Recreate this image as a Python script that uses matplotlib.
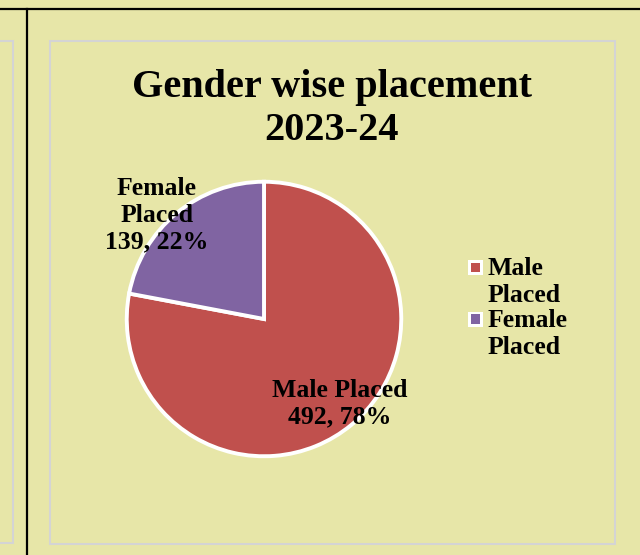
import matplotlib.pyplot as plt
from matplotlib.patches import Rectangle
from matplotlib.lines import Line2D

# data
categories = ['Male Placed', 'Female Placed']
counts = [492, 139]
percents = [78, 22]
colors = ['#C0504D', '#8064A2']
legend_labels = ['Male\nPlaced', 'Female\nPlaced']

bg = '#E7E6A8'
W, H = 640, 555

fig = plt.figure(figsize=(W / 100, H / 100), dpi=100, facecolor=bg)
plt.rcParams['font.family'] = ['Liberation Serif', 'DejaVu Serif']


def fx(x):
    return x / W


def fy(y):
    return 1 - y / H


# frame lines of the page / neighbouring chart
fig.add_artist(Line2D([0, 1], [fy(8.5), fy(8.5)], color='black', lw=1.6))
fig.add_artist(Line2D([fx(26.5), fx(26.5)], [fy(8.5), 0], color='black', lw=1.6))
fig.add_artist(Rectangle((fx(-5), fy(543)), fx(17.5), fy(41) - fy(543),
                         fill=False, edgecolor='#D4D4D4', lw=1.5))
fig.add_artist(Rectangle((fx(50), fy(544)), fx(565), fy(41) - fy(544),
                         fill=False, edgecolor='#D4D4D4', lw=1.5))

# title
fig.text(fx(332), fy(88), 'Gender wise placement', ha='center', va='center',
         fontsize=29, fontweight='bold')
fig.text(fx(332), fy(130), '2023-24', ha='center', va='center',
         fontsize=29, fontweight='bold')

# pie
ax = fig.add_axes([fx(124), fy(459), fx(280), fy(179) - fy(459)])
ax.set_facecolor('none')
wedges, _ = ax.pie(counts, colors=colors, startangle=90, counterclock=False,
                   wedgeprops=dict(edgecolor='white', linewidth=2.8))
ax.set_xlim(-1.02, 1.02)
ax.set_ylim(-1.02, 1.02)

# data labels
label_pos = [(340, 404), (157, 215)]
for name, c, p, (x, y) in zip(categories, counts, percents, label_pos):
    txt = name + '\n' if name == 'Male Placed' else name.replace(' ', '\n') + '\n'
    fig.text(fx(x), fy(y), f'{txt}{c}, {p}%', ha='center', va='center',
             fontsize=18.5, fontweight='bold', linespacing=1.2)

# legend
for i, (lab, col) in enumerate(zip(legend_labels, colors)):
    yc = 267 + i * 52
    fig.add_artist(Rectangle((fx(468), fy(yc + 7.5)), fx(15), fy(yc - 7.5) - fy(yc + 7.5),
                             facecolor='white', edgecolor='none'))
    fig.add_artist(Rectangle((fx(471), fy(yc + 4.5)), fx(9), fy(yc - 4.5) - fy(yc + 4.5),
                             facecolor=col, edgecolor='none'))
    fig.text(fx(488), fy(yc - 10), lab, ha='left', va='top',
             fontsize=18.5, fontweight='bold', linespacing=1.2)

fig.savefig('out.png', dpi=100, facecolor=bg)
